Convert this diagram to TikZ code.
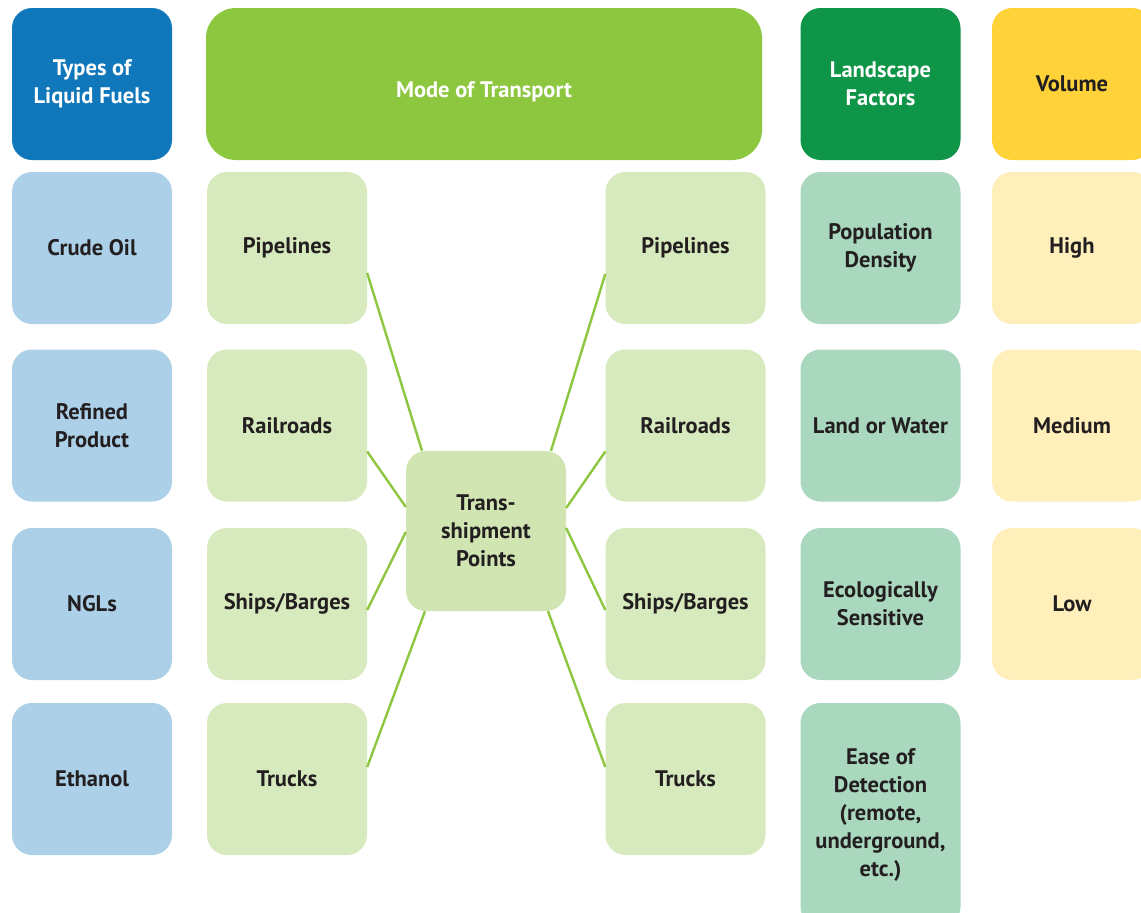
\documentclass[tikz,border=0pt]{standalone}
\usepackage{fontspec}
\setmainfont{PT Sans}
\definecolor{hdblue}{HTML}{0F77BA}
\definecolor{ltblue}{HTML}{ABD0E7}
\definecolor{hdgreen}{HTML}{8DC63F}
\definecolor{ltgreen}{HTML}{D6EABE}
\definecolor{ctgreen}{HTML}{D0E5B2}
\definecolor{hddkgreen}{HTML}{0E9547}
\definecolor{ltteal}{HTML}{AAD8BE}
\definecolor{hdyellow}{HTML}{FFD23A}
\definecolor{ltyellow}{HTML}{FFEFBA}
\definecolor{txt}{HTML}{231F20}
\tikzset{
  box/.style={rounded corners=20pt, minimum width=160pt, minimum height=152pt,
    align=center, inner sep=0pt, text=txt,
    font=\bfseries\fontsize{22.5}{28}\selectfont},
  hdr/.style={box, text=white},
  link/.style={draw=hdgreen, line width=2.4pt},
}
\begin{document}
\begin{tikzpicture}[x=1pt,y=-1pt]
\useasboundingbox (0,0) rectangle (1141,913);
\clip (0,0) rectangle (1141,913);
% headers
\node[hdr, fill=hdblue] (h1) at (92,84) {Types of\\Liquid Fuels};
\node[hdr, fill=hdgreen, minimum width=556pt, rounded corners=30pt] (h2) at (484,84) {\raisebox{-13pt}[0pt][0pt]{Mode of Transport}};
\node[hdr, fill=hddkgreen] (h4) at (880.5,84) {Landscape\\Factors};
\node[box, fill=hdyellow] (h5) at (1072,84) {Volume};
% column 1
\node[box, fill=ltblue] (f1) at (92,248) {Crude Oil};
\node[box, fill=ltblue] (f2) at (92,425.5) {Refined\\Product};
\node[box, fill=ltblue] (f3) at (92,604) {NGLs};
\node[box, fill=ltblue] (f4) at (92,779) {Ethanol};
% left modes
\node[box, fill=ltgreen] (lp) at (287,248) {Pipelines};
\node[box, fill=ltgreen] (lr) at (287,425.5) {Railroads};
\node[box, fill=ltgreen] (ls) at (287,604) {Ships/Barges};
\node[box, fill=ltgreen] (lt) at (287,779) {Trucks};
% right modes
\node[box, fill=ltgreen] (rp) at (685.5,248) {Pipelines};
\node[box, fill=ltgreen] (rr) at (685.5,425.5) {Railroads};
\node[box, fill=ltgreen] (rs) at (685.5,604) {Ships/Barges};
\node[box, fill=ltgreen] (rt) at (685.5,779) {Trucks};
% center
\node[box, fill=ctgreen, minimum height=160pt] (tp) at (486,531) {Trans-\\shipment\\Points};
% landscape
\node[box, fill=ltteal] (l1) at (880.5,248) {Population\\Density};
\node[box, fill=ltteal] (l2) at (880.5,425.5) {Land or Water};
\node[box, fill=ltteal] (l3) at (880.5,604) {Ecologically\\Sensitive};
\node[box, fill=ltteal, minimum height=224pt] (l4) at (880.5,815) {Ease of\\Detection\\(remote,\\underground,\\etc.)};
% volume
\node[box, fill=ltyellow] (v1) at (1072,248) {High};
\node[box, fill=ltyellow] (v2) at (1072,425.5) {Medium};
\node[box, fill=ltyellow] (v3) at (1072,604) {Low};
% connectors
\draw[link] ([yshift=-25pt]lp.east) -- ([xshift=-64pt]tp.north);
\draw[link] ([yshift=-26pt]lr.east) -- ([yshift=24pt]tp.west);
\draw[link] ([yshift=-6pt]ls.east) -- ([yshift=-1pt]tp.west);
\draw[link] ([yshift=12pt]lt.east) -- ([xshift=-61pt]tp.south);
\draw[link] ([yshift=-26pt]rp.west) -- ([xshift=65pt]tp.north);
\draw[link] ([yshift=-26pt]rr.west) -- ([yshift=23pt]tp.east);
\draw[link] ([yshift=-6pt]rs.west) -- ([yshift=3pt]tp.east);
\draw[link] ([yshift=12pt]rt.west) -- ([xshift=62pt]tp.south);
\end{tikzpicture}
\end{document}
